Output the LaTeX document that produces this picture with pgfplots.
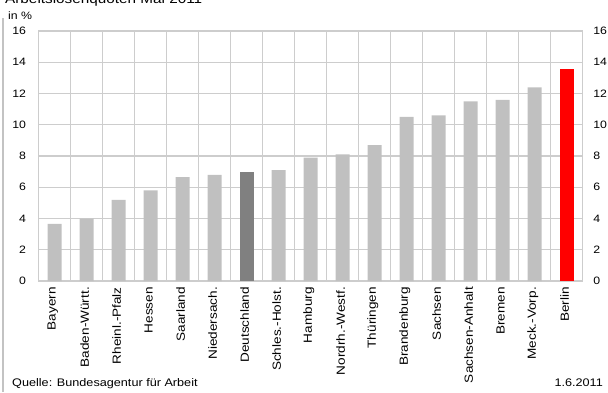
\documentclass[border=0pt]{standalone}
\usepackage{fontspec}
\setmainfont{Liberation Sans}[FakeStretch=1.15]
\usepackage{pgfplots}
\pgfplotsset{compat=1.18}
\definecolor{gridgray}{RGB}{205,205,205}
\definecolor{bordergray}{RGB}{195,195,195}
\definecolor{bargray}{RGB}{192,192,192}
\definecolor{darkbar}{RGB}{128,128,128}
\definecolor{berlinred}{RGB}{255,0,0}
\begin{document}
\begin{tikzpicture}[x=1pt,y=1pt]
\useasboundingbox (0,0) rectangle (608,392);
\draw[line width=1.6pt, bordergray] (3,0) -- (3,374);
\node[anchor=base west, font=\fontsize{13.3}{15}\selectfont, inner sep=0pt] at (5,388) {Arbeitslosenquoten Mai 2011};
\node[anchor=base west, font=\fontsize{10.7}{12}\selectfont, inner sep=0pt] at (8,372) {in \%};
\node[anchor=base west, font=\fontsize{11}{13}\selectfont, inner sep=0pt] at (12,6) {Quelle: Bundesagentur für Arbeit};
\node[anchor=base east, font=\fontsize{11}{13}\selectfont, inner sep=0pt] at (603,6) {1.6.2011};
\begin{axis}[
  at={(38.7pt,111pt)}, anchor=south west,
  scale only axis, width=544pt, height=250pt,
  xmin=-0.5, xmax=16.5, ymin=0, ymax=16,
  ytick={0,2,...,16},
  xtick={0,...,16},
  xticklabels={Bayern,Baden-Württ.,Rheinl.-Pfalz,Hessen,Saarland,Niedersach.,Deutschland,Schles.-Holst.,Hamburg,Nordrh.-Westf.,Thüringen,Brandenburg,Sachsen,Sachsen-Anhalt,Bremen,Meck.-Vorp.,Berlin},
  minor xtick={0.5,1.5,...,15.5},
  ymajorgrids, xminorgrids,
  grid style={gridgray, line width=1.2pt},
  minor grid style={gridgray, line width=1.2pt},
  major tick length=0pt, minor tick length=0pt,
  tick style={draw=none},
  axis line style={gridgray, line width=1.2pt},
  /pgf/number format/assume math mode=true,
  xticklabel style={yshift=-6pt, xshift=-2pt, rotate=90, anchor=east, inner sep=0pt, font=\fontsize{11.8}{13}\selectfont},
  yticklabel style={anchor=east, inner sep=0pt, xshift=-12.5pt, font=\fontsize{10.7}{12}\selectfont},
  ybar, bar width=14pt,
]
\addplot[fill=bargray, draw=none, bar shift=0pt] coordinates {
 (0,3.65) (1,4.0) (2,5.2) (3,5.8) (4,6.65) (5,6.8) (7,7.1) (8,7.9) (9,8.1) (10,8.7) (11,10.5) (12,10.6) (13,11.5) (14,11.6) (15,12.4)};
\addplot[fill=darkbar, draw=none, bar shift=0pt] coordinates {(6,7.0)};
\addplot[fill=berlinred, draw=none, bar shift=0pt] coordinates {(16,13.55)};
\end{axis}
\begin{axis}[
  at={(38.7pt,111pt)}, anchor=south west,
  scale only axis, width=544pt, height=250pt,
  xmin=-0.5, xmax=16.5, ymin=0, ymax=16,
  ytick={0,2,...,16},
  axis y line*=right, hide x axis,
  major tick length=0pt, tick style={draw=none},
  axis line style={gridgray, line width=1.2pt},
  /pgf/number format/assume math mode=true,
  yticklabel style={anchor=west, inner sep=0pt, xshift=10.5pt, font=\fontsize{10.7}{12}\selectfont},
]
\addplot[draw=none] coordinates {(0,0)};
\end{axis}
\end{tikzpicture}
\end{document}
